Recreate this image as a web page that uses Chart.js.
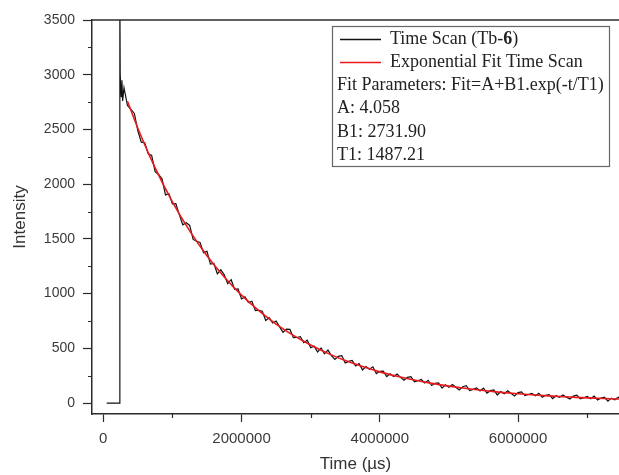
<!DOCTYPE html>
<html>
<head>
<meta charset="utf-8">
<script src="https://cdn.jsdelivr.net/npm/chart.js@4"></script>
<style>
  html, body { margin: 0; padding: 0; background: #fff; }
  #wrap { width: 619px; height: 475px; }
</style>
</head>
<body>
<div id="wrap"><canvas id="decayChart"></canvas></div>
<script>
// measured time scan, time in µs
const timeUs = [
  50000, 240000, 240000, 245000, 260000, 270000, 280000,
  300000, 350000, 400000, 450000, 500000, 550000, 600000, 650000, 700000, 750000,
  800000, 850000, 900000, 950000, 1000000, 1050000, 1100000, 1150000, 1200000, 1250000,
  1300000, 1350000, 1400000, 1450000, 1500000, 1550000, 1600000, 1650000, 1700000, 1750000,
  1800000, 1850000, 1900000, 1950000, 2000000, 2050000, 2100000, 2150000, 2200000, 2250000,
  2300000, 2350000, 2400000, 2450000, 2500000, 2550000, 2600000, 2650000, 2700000, 2750000,
  2800000, 2850000, 2900000, 2950000, 3000000, 3050000, 3100000, 3150000, 3200000, 3250000,
  3300000, 3350000, 3400000, 3450000, 3500000, 3550000, 3600000, 3650000, 3700000, 3750000,
  3800000, 3850000, 3900000, 3950000, 4000000, 4050000, 4100000, 4150000, 4200000, 4250000,
  4300000, 4350000, 4400000, 4450000, 4500000, 4550000, 4600000, 4650000, 4700000, 4750000,
  4800000, 4850000, 4900000, 4950000, 5000000, 5050000, 5100000, 5150000, 5200000, 5250000,
  5300000, 5350000, 5400000, 5450000, 5500000, 5550000, 5600000, 5650000, 5700000, 5750000,
  5800000, 5850000, 5900000, 5950000, 6000000, 6050000, 6100000, 6150000, 6200000, 6250000,
  6300000, 6350000, 6400000, 6450000, 6500000, 6550000, 6600000, 6650000, 6700000, 6750000,
  6800000, 6850000, 6900000, 6950000, 7000000, 7050000, 7100000, 7150000, 7200000, 7250000,
  7300000, 7350000, 7400000, 7450000, 7500000
];
const intensity = [
  0, 0, 3700, 3000, 2800, 2950, 2760,
  2881, 2718, 2683, 2646, 2486, 2384, 2379, 2277, 2262, 2114,
  2088, 2049, 1902, 1912, 1819, 1822, 1722, 1629, 1648, 1623,
  1495, 1478, 1468, 1374, 1386, 1270, 1275, 1181, 1218, 1172,
  1092, 1127, 1039, 1042, 951, 970, 919, 930, 845, 848,
  839, 755, 780, 731, 750, 696, 647, 676, 673, 597,
  599, 606, 552, 574, 505, 520, 466, 503, 450, 484,
  433, 398, 427, 433, 367, 381, 390, 340, 361, 303,
  334, 309, 331, 269, 290, 291, 241, 268, 242, 265,
  235, 208, 235, 241, 195, 204, 215, 184, 208, 160,
  180, 185, 137, 167, 145, 170, 144, 119, 149, 158,
  114, 125, 139, 110, 136, 91, 113, 119, 74, 106,
  85, 113, 88, 65, 95, 102, 68, 78, 89, 67,
  89, 53, 71, 77, 41, 67, 52, 74, 54, 37,
  63, 72, 38, 49, 61, 40, 63, 28, 46, 53,
  18, 45, 30, 53, 34
];

// exponential fit curve
const fitTimeUs = [
  350000, 500000, 750000, 1000000, 1250000, 1500000, 1750000, 2000000, 2250000, 2500000,
  2750000, 3000000, 3250000, 3500000, 3750000, 4000000, 4250000, 4500000, 4750000, 5000000,
  5250000, 5500000, 5750000, 6000000, 6250000, 6500000, 6750000, 7000000, 7250000, 7500000
];
const fitIntensity = [
  2758, 2511, 2149, 1839, 1573, 1346, 1152, 986, 844, 722,
  618, 530, 454, 388, 333, 285, 245, 210, 180, 155,
  133, 114, 98, 85, 73, 63, 55, 47, 41, 36
];

const seriesNames = ["Time Scan (Tb-", "Exponential Fit Time Scan"];
const fitParams = [
  "Fit Parameters: Fit=A+B1.exp(-t/T1)",
  "A: 4.058",
  "B1: 2731.90",
  "T1: 1487.21"
];
const xTicks = [0, 2000000, 4000000, 6000000];
const yTicks = [0, 500, 1000, 1500, 2000, 2500, 3000, 3500];
const yMinorTicks = [250, 750, 1250, 1750, 2250, 2750, 3250];
const xMinorTicks = [1000000, 3000000, 5000000, 7000000];

const axisColor = '#2b2b2b';
const labelColor = '#3a3a3a';
const serif = '"Liberation Serif", "Times New Roman", serif';

// frame top line, minor ticks, and the boxed legend with the fit parameters
const framePlugin = {
  id: 'frame',
  afterDraw(chart) {
    const c = chart.ctx;
    const area = chart.chartArea;
    const xs = chart.scales.x, ys = chart.scales.y;
    c.save();
    c.strokeStyle = axisColor;
    c.lineWidth = 1.5;
    c.beginPath();
    c.moveTo(area.left, area.top);
    c.lineTo(chart.width, area.top);
    c.stroke();

    c.lineWidth = 1.2;
    c.beginPath();
    yMinorTicks.forEach(v => {
      const py = Math.round(ys.getPixelForValue(v)) + 0.5;
      c.moveTo(area.left - 4, py);
      c.lineTo(area.left, py);
    });
    xMinorTicks.forEach(v => {
      const px = Math.round(xs.getPixelForValue(v)) + 0.5;
      c.moveTo(px, area.bottom);
      c.lineTo(px, area.bottom + 4);
    });
    c.stroke();

    // legend box
    const bx = 332, by = 26, bw = 277, bh = 140;
    c.fillStyle = '#fff';
    c.fillRect(bx, by, bw, bh);
    c.strokeStyle = '#666';
    c.lineWidth = 1.2;
    c.strokeRect(bx + 0.5, by + 0.5, bw, bh);

    c.font = '18px ' + serif;
    c.textBaseline = 'middle';
    c.fillStyle = '#222';
    const rowY = [39, 62, 85, 108, 132, 155];
    const ds = chart.data.datasets;
    [0, 1].forEach(i => {
      c.strokeStyle = ds[i].borderColor;
      c.lineWidth = 1.3;
      c.beginPath();
      c.moveTo(340, rowY[i] + 0.5);
      c.lineTo(381, rowY[i] + 0.5);
      c.stroke();
    });
    c.fillText(seriesNames[0], 390, rowY[0]);
    const w = c.measureText(seriesNames[0]).width;
    c.font = 'bold 18px ' + serif;
    c.fillText('6', 390 + w, rowY[0]);
    const w2 = c.measureText('6').width;
    c.font = '18px ' + serif;
    c.fillText(')', 390 + w + w2, rowY[0]);
    c.fillText(seriesNames[1], 390, rowY[1]);
    fitParams.forEach((t, i) => c.fillText(t, 337, rowY[i + 2]));
    c.restore();
  }
};

const ctx = document.getElementById('decayChart').getContext('2d');
const chart = new Chart(ctx, {
  type: 'line',
  data: {
    datasets: [
      {
        label: seriesNames[0] + '6)',
        data: timeUs.map((t, i) => ({x: t, y: intensity[i]})),
        borderColor: '#111',
        borderWidth: 1.2,
        pointRadius: 0,
        tension: 0,
        order: 1
      },
      {
        label: seriesNames[1],
        data: fitTimeUs.map((t, i) => ({x: t, y: fitIntensity[i]})),
        borderColor: '#e8191c',
        borderWidth: 1.6,
        pointRadius: 0,
        cubicInterpolationMode: 'monotone',
        order: 0
      }
    ]
  },
  options: {
    responsive: true,
    maintainAspectRatio: false,
    animation: false,
    layout: { padding: { top: 20, right: 0, left: 0, bottom: 0 } },
    plugins: {
      legend: { display: false },
      tooltip: { enabled: false }
    },
    scales: {
      x: {
        type: 'linear',
        min: -163000,
        max: 7460000,
        afterBuildTicks: s => { s.ticks = xTicks.map(v => ({value: v})); },
        afterFit: s => { s.height = 61; },
        border: { display: true, color: axisColor, width: 1.5 },
        grid: { drawOnChartArea: false, drawTicks: true, tickLength: 8, tickColor: axisColor, tickWidth: 1.2 },
        ticks: {
          maxRotation: 0,
          autoSkip: false,
          padding: 8,
          color: labelColor,
          font: { family: 'Liberation Sans', size: 15 },
          callback: v => String(v)
        },
        title: {
          display: true,
          text: 'Time (µs)',
          color: '#333',
          font: { family: 'Liberation Sans', size: 17 },
          padding: { top: 4, bottom: 0 }
        }
      },
      y: {
        min: -100,
        max: 3500,
        afterBuildTicks: s => { s.ticks = yTicks.map(v => ({value: v})); },
        afterFit: s => { s.width = 92; },
        border: { display: true, color: axisColor, width: 1.5 },
        grid: { drawOnChartArea: false, drawTicks: true, tickLength: 9, tickColor: axisColor, tickWidth: 1.2 },
        ticks: {
          autoSkip: false,
          padding: 8,
          color: labelColor,
          font: { family: 'Liberation Sans', size: 14 },
          callback: v => String(v)
        },
        title: {
          display: true,
          text: 'Intensity',
          color: '#333',
          font: { family: 'Liberation Sans', size: 17 },
          padding: { top: 10, bottom: 4 }
        }
      }
    }
  },
  plugins: [framePlugin]
});
</script>
</body>
</html>
